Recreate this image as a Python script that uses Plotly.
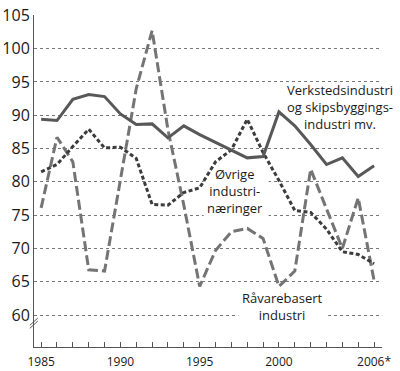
import plotly.graph_objects as go

years = list(range(1985, 2007))
verksted = [89.4, 89.2, 92.4, 93.1, 92.8, 90.2, 88.6, 88.7, 86.6, 88.4, 87.1,
            85.9, 84.7, 83.6, 83.8, 90.5, 88.4, 85.6, 82.6, 83.6, 80.8, 82.4]
ovrige = [81.5, 82.6, 85.3, 87.9, 85.1, 85.2, 83.5, 76.6, 76.5, 78.4, 79.1,
          83.0, 84.8, 89.4, 84.4, 80.2, 75.7, 75.4, 72.9, 69.5, 69.1, 67.7]
ravare = [76.1, 86.7, 83.0, 66.8, 66.6, 80.0, 94.0, 102.7, 87.8, 76.5, 64.3,
          69.7, 72.5, 73.0, 71.5, 64.3, 66.6, 81.9, 75.8, 70.0, 77.6, 65.2]
x_ticktext = {1985: "1985", 1990: "1990", 1995: "1995", 2000: "2000", 2006: "2006*"}
y_ticks = [60, 65, 70, 75, 80, 85, 90, 95, 100, 105]

FONT = "Open Sans"

fig = go.Figure()
fig.add_trace(go.Scatter(x=years, y=ravare, mode="lines",
                         line=dict(color="#747474", width=3, dash="10px,4px")))
fig.add_trace(go.Scatter(x=years, y=ovrige, mode="lines",
                         line=dict(color="#3c3c3c", width=3, dash="4px,2.5px")))
fig.add_trace(go.Scatter(x=years, y=verksted, mode="lines",
                         line=dict(color="#585858", width=3)))

# masks hiding gridlines behind labels (between gridlines and traces)
masks = [
    (2000.1, 2006.6, 88.0, 92.5),
    (1995.25, 1999.35, 74.2, 81.8),
    (1997.45, 2003.1, 59.2, 60.8),
]
for x0, x1, y0, y1 in masks:
    fig.add_shape(type="rect", x0=x0, x1=x1, y0=y0, y1=y1, xref="x", yref="y",
                  fillcolor="white", line=dict(width=0), layer="between")

labels = [
    (2003.86, 91.2, "Verkstedsindustri<br>og skipsbyggings-<br>industri mv."),
    (1997.24, 78.6, "Øvrige<br>industri-<br>næringer"),
    (2000.24, 61.25, "Råvarebasert<br>industri"),
]
for lx, ly, txt in labels:
    fig.add_annotation(x=lx, y=ly, text=txt, showarrow=False, xref="x", yref="y",
                       font=dict(family=FONT, size=13, color="#1a1a1a"), align="center")

# axis break marks
for dy in (0.0, 0.45):
    fig.add_shape(type="line", xref="paper", yref="y",
                  x0=-0.012, x1=0.011, y0=58.0 + dy, y1=59.1 + dy,
                  line=dict(color="#555", width=1))

fig.update_layout(
    width=400, height=371,
    margin=dict(l=34, r=18, t=15, b=24, autoexpand=False),
    paper_bgcolor="white", plot_bgcolor="white",
    showlegend=False,
    font=dict(family=FONT, color="#1a1a1a"),
)
fig.update_xaxes(
    range=[1984.55, 2006.5],
    tickvals=years,
    ticktext=[x_ticktext.get(y, "") for y in years],
    ticks="inside", ticklen=5, tickcolor="#555", tickwidth=1,
    showline=True, linecolor="#555", linewidth=1,
    showgrid=False, zeroline=False, automargin=False,
    ticklabelstandoff=4,
    tickfont=dict(family=FONT, size=12, color="#1a1a1a"),
)
fig.update_yaxes(
    range=[55.2, 105.05],
    tickvals=y_ticks,
    showline=True, linecolor="#555", linewidth=1,
    showgrid=True, gridcolor="#777", gridwidth=1, griddash="dot",
    zeroline=False, ticks="", automargin=False,
    tickfont=dict(family=FONT, size=16, color="#1a1a1a"),
)

fig.write_html("out.html", config={"displayModeBar": False},
               post_script="document.body.style.margin='0';")
